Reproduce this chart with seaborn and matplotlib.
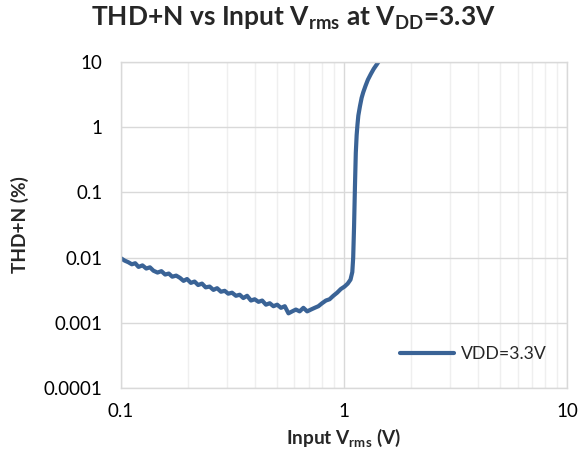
import matplotlib
matplotlib.use("Agg")
import matplotlib.pyplot as plt
import matplotlib.ticker as mticker
import seaborn as sns
import pandas as pd

# Data
input_vrms = [0.100, 0.104, 0.108, 0.112, 0.116, 0.120, 0.125, 0.130, 0.135, 0.140,
              0.146, 0.152, 0.158, 0.164, 0.170, 0.177, 0.184, 0.191, 0.198, 0.206,
              0.214, 0.222, 0.231, 0.240, 0.250, 0.260, 0.270, 0.281, 0.292, 0.303,
              0.315, 0.328, 0.341, 0.354, 0.368, 0.383, 0.398, 0.414, 0.430, 0.447,
              0.465, 0.483, 0.502, 0.522, 0.543, 0.564, 0.586, 0.609, 0.633, 0.658,
              0.684, 0.711, 0.739, 0.768, 0.798, 0.830, 0.862, 0.896, 0.932, 0.968,
              1.006, 1.040, 1.070, 1.090, 1.100, 1.110, 1.120, 1.130, 1.140, 1.150,
              1.160, 1.180, 1.200, 1.220, 1.250, 1.280, 1.320, 1.360, 1.400, 1.450]
thd_n = [0.0098, 0.0090, 0.0085, 0.0079, 0.0082, 0.0072, 0.0076, 0.0068, 0.0071, 0.0063,
         0.0059, 0.0062, 0.0055, 0.0057, 0.0051, 0.0053, 0.0049, 0.0044, 0.0047, 0.0041,
         0.0043, 0.0038, 0.0040, 0.0035, 0.0036, 0.0032, 0.0034, 0.0030, 0.0031, 0.0028,
         0.0029, 0.0026, 0.0027, 0.0024, 0.0026, 0.0022, 0.0023, 0.0021, 0.0022, 0.0019,
         0.0020, 0.0018, 0.0019, 0.0017, 0.0018, 0.0014, 0.0015, 0.0016, 0.0015, 0.0017,
         0.0015, 0.0016, 0.0017, 0.0018, 0.0020, 0.0022, 0.0023, 0.0026, 0.0029, 0.0033,
         0.0036, 0.0040, 0.0046, 0.0060, 0.010, 0.030, 0.12, 0.40, 0.75, 1.1,
         1.5, 2.1, 2.8, 3.4, 4.3, 5.3, 6.5, 7.8, 9.0, 10.8]
series_name = "VDD=3.3V"

x_ticks = [0.1, 1, 10]
x_tick_labels = ["0.1", "1", "10"]
y_ticks = [0.0001, 0.001, 0.01, 0.1, 1, 10]
y_tick_labels = ["0.0001", "0.001", "0.01", "0.1", "1", "10"]

df = pd.DataFrame({"Vrms": input_vrms, "THDN": thd_n, "Series": series_name})

sns.set_style("white")
plt.rcParams["font.family"] = ["Lato", "DejaVu Sans"]
plt.rcParams["mathtext.fontset"] = "custom"
plt.rcParams["mathtext.rm"] = "Lato:bold"
plt.rcParams["mathtext.bf"] = "Lato:bold"

fig = plt.figure(figsize=(5.81, 4.61), dpi=100)
ax = fig.add_axes([0.208, 0.158, 0.768, 0.708])

sns.lineplot(data=df, x="Vrms", y="THDN", hue="Series", palette=["#3A6396"],
             linewidth=3.0, sort=False, ax=ax)

ax.set_xscale("log")
ax.set_yscale("log")
ax.set_xlim(0.1, 10)
ax.set_ylim(0.0001, 10)

ax.xaxis.set_major_locator(mticker.FixedLocator(x_ticks))
ax.xaxis.set_major_formatter(mticker.FixedFormatter(x_tick_labels))
ax.xaxis.set_minor_locator(mticker.LogLocator(base=10, subs=range(2, 10)))
ax.xaxis.set_minor_formatter(mticker.NullFormatter())
ax.yaxis.set_major_locator(mticker.FixedLocator(y_ticks))
ax.yaxis.set_major_formatter(mticker.FixedFormatter(y_tick_labels))
ax.yaxis.set_minor_locator(mticker.NullLocator())

ax.grid(True, which="major", color="#d9d9d9", linewidth=1.0)
ax.grid(True, which="minor", axis="x", color="#efefef", linewidth=1.0)
ax.tick_params(axis="both", which="both", length=0, labelsize=13.5, colors="#000000")
ax.tick_params(axis="y", pad=13)
ax.tick_params(axis="x", pad=11)
for s in ax.spines.values():
    s.set_color("#d9d9d9")
    s.set_linewidth(1.0)

ax.set_xlabel(r"Input V$_{\mathbf{rms}}$ (V)", fontsize=13.7, fontweight="bold", labelpad=4)
ax.set_ylabel("THD+N (%)", fontsize=13.7, fontweight="bold", labelpad=11)
fig.suptitle(r"THD+N vs Input V$_{\mathbf{rms}}$ at V$_{\mathbf{DD}}$=3.3V",
             fontsize=19, fontweight="bold", x=0.505, y=0.99)

ax.legend(loc="lower right", bbox_to_anchor=(0.99, 0.03), frameon=False,
          fontsize=12.7, handlelength=3.05, handletextpad=0.4)

fig.savefig("out.png", dpi=100)
